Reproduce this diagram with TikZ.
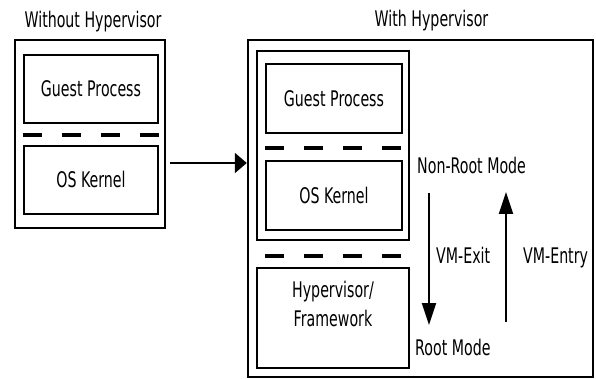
\documentclass[tikz,border=0pt]{standalone}
\usepackage{fontspec}
\setmainfont{DejaVu Sans}[FakeStretch=0.66]
\usetikzlibrary{arrows.meta}
\begin{document}
\begin{tikzpicture}[x=1pt,y=-1pt,
  lbl/.style={font=\fontsize{21.5pt}{29pt}\selectfont, inner sep=0pt},
  box/.style={draw, line width=2.4pt, lbl, align=center, text height=16pt, text depth=0pt},
  sep/.style={line width=4pt, dash pattern=on 19pt off 20pt},
  harr/.style={line width=2pt, -{Triangle[length=12pt,width=20pt]}},
  varr/.style={line width=2pt, -{Triangle[length=22pt,width=14pt]}}]
\useasboundingbox (0,0) rectangle (596,379);

% left: machine without a hypervisor
\node[lbl, anchor=base] (ltitle) at (93,28) {Without Hypervisor};
\node[box, minimum width=150pt, minimum height=188pt] (lout) at (90,134) {};
\node[box, minimum width=134pt, minimum height=68pt] (lgp) at (91,89) {Guest Process};
\node[box, minimum width=134pt, minimum height=68pt] (los) at (91,180) {OS Kernel};
\draw[sep] (lgp.west |- 0,135) -- (lgp.east |- 0,135);

% right: machine with a hypervisor
\node[lbl, anchor=base] (rtitle) at (431.5,27) {With Hypervisor};
\node[box, minimum width=345pt, minimum height=337pt] (rout) at (420.5,208.5) {};
\node[box, minimum width=152pt, minimum height=189pt] (vm) at (333,145.5) {};
\node[box, minimum width=136pt, minimum height=69pt] (rgp) at (334,98.5) {Guest Process};
\node[box, minimum width=136pt, minimum height=69pt] (ros) at (334,195.5) {OS Kernel};
\node[box, minimum width=152pt, minimum height=100pt] (hyp) at (333,318) {Hypervisor/\\Framework};
\draw[sep] (rgp.west |- 0,148) -- (rgp.east |- 0,148);
\draw[sep] (rgp.west |- 0,256) -- (rgp.east |- 0,256);

% transition from one setup to the other
\coordinate (a1) at (170,163);
\draw[harr] (a1) -- (a1 -| rout.west);

% mode labels and transitions
\node[lbl, anchor=base west] (nonroot) at (417,174) {Non-Root Mode};
\node[lbl, anchor=base west] (root) at (415,355) {Root Mode};
\node[lbl, anchor=base west] (exit) at (436,263) {VM-Exit};
\node[lbl, anchor=base west] (entry) at (523,263) {VM-Entry};
\coordinate (ex1) at (429,193);
\coordinate (ex2) at (429,325);
\coordinate (en1) at (506,322);
\coordinate (en2) at (506,192);
\draw[varr] (ex1) -- (ex2);
\draw[varr] (en1) -- (en2);
\end{tikzpicture}
\end{document}
